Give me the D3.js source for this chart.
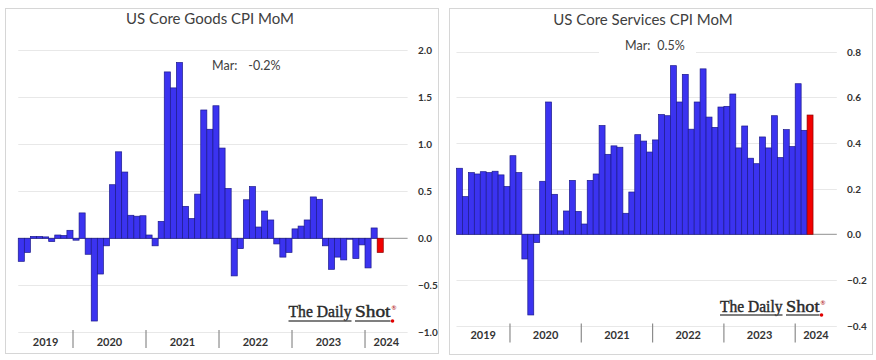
<!DOCTYPE html>
<html>
<head>
<meta charset="utf-8">
<script src="https://cdn.jsdelivr.net/npm/d3@7"></script>
<style>
  html, body { margin: 0; padding: 0; background: #fff; }
  svg { display: block; }
</style>
</head>
<body>
<svg id="chart" width="876" height="360"></svg>
<script>
// ---------------- DATA ----------------
const years = ["2019", "2020", "2021", "2022", "2023", "2024"];
const monthsPerYear = [9, 12, 12, 12, 12, 3]; // Apr 2019 .. Mar 2024

const goodsTitle = "US Core Goods CPI MoM";
const goodsNoteLabel = "Mar:";
const goodsNoteValue = "-0.2%";
const goodsTicks = [-1.0, -0.5, 0.0, 0.5, 1.0, 1.5, 2.0];
const goodsValues = [
  -0.245, -0.15, 0.02, 0.02, 0.015, -0.035, 0.035, 0.03, 0.085,
  -0.02, 0.27, -0.17, -0.88, -0.38, -0.08, 0.57, 0.92, 0.705, 0.245, 0.235, 0.24,
  0.035, -0.08, 0.18, 1.77, 1.60, 1.87, 0.34, 0.21, 0.47, 1.365, 1.16, 1.41,
  0.96, 0.53, -0.40, -0.11, 0.41, 0.55, 0.12, 0.29, 0.195, -0.06, -0.20, -0.15,
  0.10, 0.13, 0.195, 0.44, 0.415, -0.08, -0.33, -0.20, -0.23, -0.01, -0.215, -0.07,
  -0.315, 0.11, -0.15
];

const servicesTitle = "US Core Services CPI MoM";
const servicesNoteLabel = "Mar:";
const servicesNoteValue = "0.5%";
const servicesTicks = [-0.4, -0.2, 0.0, 0.2, 0.4, 0.6, 0.8];
const servicesValues = [
  0.289, 0.165, 0.27, 0.264, 0.274, 0.27, 0.276, 0.26, 0.209,
  0.344, 0.27, -0.108, -0.353, -0.036, 0.232, 0.579, 0.175, 0.015, 0.102, 0.236, 0.10,
  0.045, 0.236, 0.264, 0.476, 0.35, 0.387, 0.381, 0.092, 0.185, 0.436, 0.408, 0.36,
  0.413, 0.524, 0.519, 0.738, 0.579, 0.70, 0.46, 0.579, 0.724, 0.513, 0.468, 0.557,
  0.56, 0.614, 0.378, 0.474, 0.333, 0.309, 0.426, 0.378, 0.519, 0.336, 0.458, 0.384,
  0.659, 0.455, 0.522
];

const logoText = ["The Daily", "Shot"];

// ---------------- STYLE ----------------
const BLUE = "#3b33f0", BLUE_STROKE = "#1c1a8c";
const RED = "#f20000", RED_STROKE = "#8a0000";
const TEXT = "#404040";
const SANS = "Lato, 'Open Sans', 'Liberation Sans', sans-serif";
const SERIF = "'Liberation Serif', 'DejaVu Serif', serif";
const EXTRA_SLOTS = 4; // empty space after last bar

const svg = d3.select("#chart");

function drawPanel(cfg) {
  const g = svg.append("g");
  const n = cfg.values.length;

  // panel frame
  g.append("rect")
    .attr("x", cfg.panel.x + 0.5).attr("y", cfg.panel.y + 0.5)
    .attr("width", cfg.panel.w).attr("height", cfg.panel.h)
    .attr("fill", "#fff").attr("stroke", "#d6d6d6").attr("stroke-width", 1);

  const x = d3.scaleLinear().domain([0, n + EXTRA_SLOTS]).range(cfg.xRange);
  const y = d3.scaleLinear().domain(cfg.yDomain).range(cfg.yRange);

  // gridlines
  g.append("g").selectAll("line").data(cfg.ticks.filter(t => t !== 0)).join("line")
    .attr("x1", x(0)).attr("x2", x(n + EXTRA_SLOTS))
    .attr("y1", d => Math.round(y(d)) + 0.5).attr("y2", d => Math.round(y(d)) + 0.5)
    .attr("stroke", "#e8e8e8").attr("stroke-width", 1.2);

  // right axis labels
  const axis = d3.axisRight(y).tickValues(cfg.ticks).tickSize(0).tickPadding(0)
    .tickFormat(d3.format(".1f"));
  const ag = g.append("g").attr("transform", `translate(${cfg.tickX},0)`).call(axis);
  ag.select(".domain").remove();
  ag.selectAll("text")
    .attr("font-family", SANS).attr("font-size", 10).attr("font-weight", "bold")
    .attr("fill", "#333").attr("x", 0).attr("dy", "0.35em");

  // zero line
  g.append("line")
    .attr("x1", x(0)).attr("x2", x(n + EXTRA_SLOTS))
    .attr("y1", y(0)).attr("y2", y(0))
    .attr("stroke", "#a6a6a6").attr("stroke-width", 1.2);

  // bars
  g.append("g").selectAll("rect").data(cfg.values).join("rect")
    .attr("x", (d, i) => x(i))
    .attr("width", (d, i) => x(i + 1) - x(i))
    .attr("y", d => Math.min(y(d), y(0)))
    .attr("height", d => Math.abs(y(d) - y(0)))
    .attr("fill", (d, i) => i === n - 1 ? RED : BLUE)
    .attr("stroke", (d, i) => i === n - 1 ? RED_STROKE : BLUE_STROKE)
    .attr("stroke-width", 0.7);

  // year separators and labels
  let start = 0;
  const starts = monthsPerYear.map(m => { const s = start; start += m; return s; });
  g.append("g").selectAll("line").data(starts.slice(1)).join("line")
    .attr("x1", d => x(d)).attr("x2", d => x(d))
    .attr("y1", cfg.sepY[0]).attr("y2", cfg.sepY[1])
    .attr("stroke", "#8c8c8c").attr("stroke-width", 1.2);
  g.append("g").selectAll("text").data(years).join("text")
    .attr("x", (d, i) => {
      const a = x(starts[i]);
      const b = i === years.length - 1 ? x(n + EXTRA_SLOTS) : x(starts[i] + monthsPerYear[i]);
      return (a + b) / 2;
    })
    .attr("y", cfg.yearY)
    .attr("text-anchor", "middle")
    .attr("font-family", SANS).attr("font-size", 11).attr("font-weight", "bold")
    .attr("fill", "#333")
    .text(d => d);

  // title
  g.append("text")
    .attr("x", cfg.titleX).attr("y", cfg.titleY)
    .attr("text-anchor", "middle")
    .attr("font-family", SANS).attr("font-size", 15)
    .attr("fill", TEXT).text(cfg.title);

  // note (latest value)
  if (cfg.noteGap) {
    g.append("rect")
      .attr("x", cfg.noteGap[0]).attr("y", cfg.noteY - 14)
      .attr("width", cfg.noteGap[1] - cfg.noteGap[0]).attr("height", 18)
      .attr("fill", "#fff");
  }
  const note = g.append("text")
    .attr("x", cfg.noteX).attr("y", cfg.noteY)
    .attr("font-family", SANS).attr("font-size", 12.5)
    .attr("fill", TEXT);
  note.append("tspan").text(cfg.noteLabel);
  note.append("tspan").attr("dx", cfg.noteDx).text(cfg.noteValue);

  // logo
  const L = cfg.logo;
  const ul = L.y + L.ul;
  [[logoText[0], L.x1], [logoText[1], L.x2]].forEach(([txt, span]) => {
    g.append("text")
      .attr("x", span[0]).attr("y", L.y)
      .attr("font-family", SERIF).attr("font-size", L.size)
      .attr("fill", "#2b2b2b").attr("stroke", "#2b2b2b").attr("stroke-width", 0.45)
      .attr("textLength", span[1] - span[0]).attr("lengthAdjust", "spacingAndGlyphs")
      .text(txt);
    g.append("line")
      .attr("x1", span[0]).attr("x2", span[1])
      .attr("y1", ul).attr("y2", ul).attr("stroke", "#555").attr("stroke-width", 1.3);
  });
  g.append("text")
    .attr("x", L.x2[1] + 1).attr("y", L.y - 7)
    .attr("font-family", SANS).attr("font-size", 6).attr("fill", "#a00")
    .text("®");
  g.append("circle")
    .attr("cx", L.x2[1] + 2).attr("cy", ul)
    .attr("r", 1.8).attr("fill", "#e00000");
}

drawPanel({
  values: goodsValues, ticks: goodsTicks,
  panel: { x: 5, y: 8, w: 433, h: 345 },
  xRange: [18.25, 407.6], yDomain: [-1, 2], yRange: [332.3, 50.3],
  tickX: 418, sepY: [330, 348], yearY: 346,
  title: goodsTitle, titleX: 210, titleY: 24,
  noteLabel: goodsNoteLabel, noteValue: goodsNoteValue, noteX: 212, noteY: 70, noteDx: 11,
  logo: { x1: [288.5, 351.5], x2: [355, 390.5], y: 316.5, size: 17, ul: 4.5 }
});

drawPanel({
  values: servicesValues, ticks: servicesTicks,
  panel: { x: 449, y: 8, w: 423, h: 346 },
  xRange: [456.5, 836.8], yDomain: [-0.4, 0.8], yRange: [325.7, 51.5],
  tickX: 847, sepY: [323.5, 342.5], yearY: 339,
  title: servicesTitle, titleX: 643, titleY: 25,
  noteLabel: servicesNoteLabel, noteValue: servicesNoteValue, noteX: 625, noteY: 50, noteDx: 7,
  noteGap: [599, 696],
  logo: { x1: [720, 782.5], x2: [786, 819.5], y: 312, size: 16.5, ul: 3 }
});
</script>
</body>
</html>
